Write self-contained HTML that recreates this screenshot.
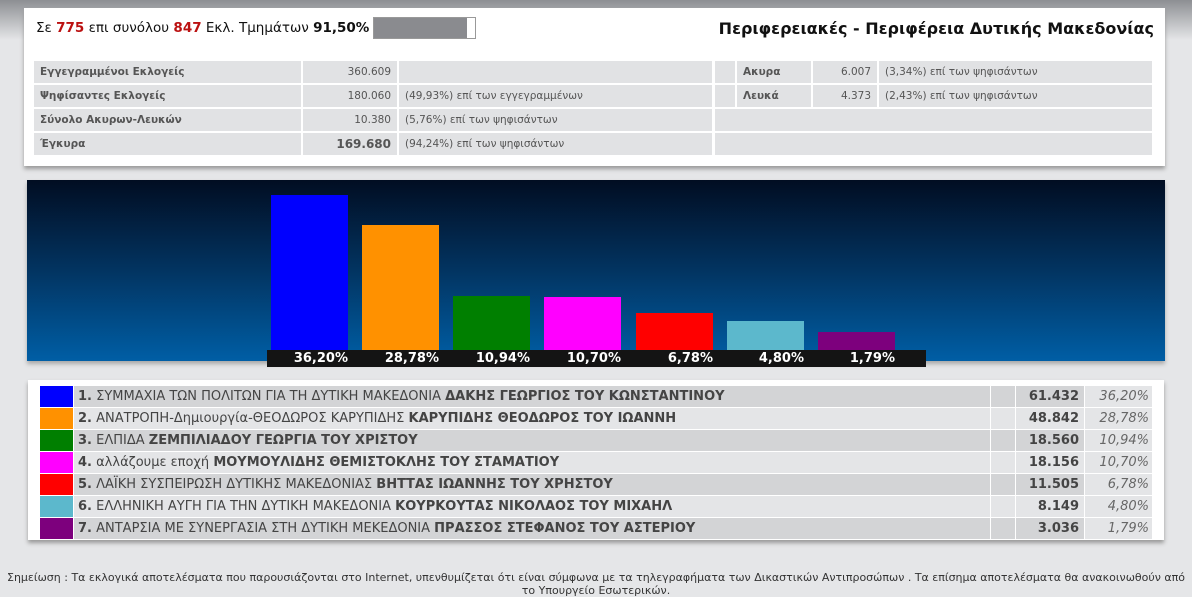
<!DOCTYPE html>
<html><head><meta charset="utf-8"><style>
*{margin:0;padding:0;box-sizing:border-box}
body{width:1192px;height:593px;position:relative;background:#e5e6e8;font-family:Tahoma,"DejaVu Sans","Liberation Sans",sans-serif;overflow:hidden;color:#333}
.abs{position:absolute}
.c{position:absolute;background:#e1e2e4;font-size:10.5px;height:22px;line-height:22px;padding:0 6px;color:#555;white-space:nowrap}
.b{font-weight:bold;font-size:10.5px}
.row{position:absolute;left:74px;width:1078px;height:21px;font-size:13px;line-height:21px;color:#444}
.row .t{position:absolute;left:0;width:916px;height:21px;padding-left:4px;white-space:nowrap}
.row .g{position:absolute;left:917px;width:24px;height:21px}
.row .n{position:absolute;left:942px;width:68px;height:21px;text-align:right;padding-right:5px;font-weight:bold;font-size:13px}
.row .p{position:absolute;left:1011px;width:67px;height:21px;text-align:right;padding-right:3px;font-style:italic;color:#666}
.sq{position:absolute;left:40px;width:33px;height:21px}
</style></head><body>
<div class="abs" style="left:0;top:0;width:1192px;height:40px;background:linear-gradient(#8d8f93,#e5e6e8)"></div>
<div class="abs" style="left:24px;top:8px;width:1141px;height:158px;background:#fff;box-shadow:0 3px 4px #999"></div>
<div class="abs" style="left:36px;top:20px;font-size:13.5px;color:#111;white-space:nowrap">Σε <b style="color:#b11">775</b> επι συνόλου <b style="color:#b11">847</b> Εκλ. Τμημάτων <b>91,50%</b></div>
<div class="abs" style="left:373px;top:17px;width:103px;height:22px;border:1px solid #999;background:#fff"><div style="width:93px;height:20px;background:#8a8b8f"></div></div>
<div class="abs" style="right:38px;top:19px;font-size:16px;font-weight:bold;color:#111">Περιφερειακές - Περιφέρεια Δυτικής Μακεδονίας</div>

<div class="c b" style="left:34px;top:61px;width:267px">Εγγεγραμμένοι Εκλογείς</div>
<div class="c" style="left:303px;top:61px;width:94px;text-align:right">360.609</div>
<div class="c" style="left:399px;top:61px;width:313px"></div>
<div class="c" style="left:715px;top:61px;width:20px"></div>
<div class="c b" style="left:737px;top:61px;width:74px">Ακυρα</div>
<div class="c" style="left:813px;top:61px;width:64px;text-align:right">6.007</div>
<div class="c" style="left:879px;top:61px;width:273px">(3,34%) επί των ψηφισάντων</div>

<div class="c b" style="left:34px;top:85px;width:267px">Ψηφίσαντες Εκλογείς</div>
<div class="c" style="left:303px;top:85px;width:94px;text-align:right">180.060</div>
<div class="c" style="left:399px;top:85px;width:313px">(49,93%) επί των εγγεγραμμένων</div>
<div class="c" style="left:715px;top:85px;width:20px"></div>
<div class="c b" style="left:737px;top:85px;width:74px">Λευκά</div>
<div class="c" style="left:813px;top:85px;width:64px;text-align:right">4.373</div>
<div class="c" style="left:879px;top:85px;width:273px">(2,43%) επί των ψηφισάντων</div>

<div class="c b" style="left:34px;top:109px;width:267px">Σύνολο Ακυρων-Λευκών</div>
<div class="c" style="left:303px;top:109px;width:94px;text-align:right">10.380</div>
<div class="c" style="left:399px;top:109px;width:313px">(5,76%) επί των ψηφισάντων</div>
<div class="c" style="left:715px;top:109px;width:437px"></div>

<div class="c b" style="left:34px;top:133px;width:267px">Έγκυρα</div>
<div class="c" style="left:303px;top:133px;width:94px;text-align:right;font-weight:bold;font-size:12px">169.680</div>
<div class="c" style="left:399px;top:133px;width:313px">(94,24%) επί των ψηφισάντων</div>
<div class="c" style="left:715px;top:133px;width:437px"></div>

<div class="abs" style="left:27px;top:180px;width:1138px;height:181px;background:linear-gradient(#010d22,#023461 50%,#005ea5);box-shadow:0 3px 4px #aaa"></div>
<div class="abs" style="left:271px;top:195px;width:77px;height:156px;background:#0000ff"></div>
<div class="abs" style="left:362px;top:225px;width:77px;height:126px;background:#ff9100"></div>
<div class="abs" style="left:453px;top:296px;width:77px;height:55px;background:#007f00"></div>
<div class="abs" style="left:544px;top:297px;width:77px;height:54px;background:#ff00ff"></div>
<div class="abs" style="left:636px;top:313px;width:77px;height:38px;background:#ff0000"></div>
<div class="abs" style="left:727px;top:321px;width:77px;height:30px;background:#5cb8cc"></div>
<div class="abs" style="left:818px;top:332px;width:77px;height:19px;background:#7d007d"></div>
<div class="abs" style="left:267px;top:350px;width:659px;height:17px;background:#141414;color:#fff;font-weight:bold;font-size:13px;line-height:17px">
<span class="abs" style="left:0;width:81px;text-align:right">36,20%</span>
<span class="abs" style="left:91px;width:81px;text-align:right">28,78%</span>
<span class="abs" style="left:182px;width:81px;text-align:right">10,94%</span>
<span class="abs" style="left:273px;width:81px;text-align:right">10,70%</span>
<span class="abs" style="left:365px;width:81px;text-align:right">6,78%</span>
<span class="abs" style="left:456px;width:81px;text-align:right">4,80%</span>
<span class="abs" style="left:547px;width:81px;text-align:right">1,79%</span>
</div>

<div class="abs" style="left:28px;top:380px;width:1136px;height:160px;background:#fff;box-shadow:0 3px 4px #999"></div>

<div class="sq" style="top:386px;background:#0000ff"></div>
<div class="row" style="top:386px"><div class="t" style="background:#d3d4d6"><b>1.</b> ΣΥΜΜΑΧΙΑ ΤΩΝ ΠΟΛΙΤΩΝ ΓΙΑ ΤΗ ΔΥΤΙΚΗ ΜΑΚΕΔΟΝΙΑ <b>ΔΑΚΗΣ ΓΕΩΡΓΙΟΣ ΤΟΥ ΚΩΝΣΤΑΝΤΙΝΟΥ</b></div><div class="g" style="background:#d3d4d6"></div><div class="n" style="background:#d3d4d6">61.432</div><div class="p" style="background:#e4e5e7">36,20%</div></div>
<div class="sq" style="top:408px;background:#ff9100"></div>
<div class="row" style="top:408px"><div class="t" style="background:#e4e5e7"><b>2.</b> ΑΝΑΤΡΟΠΗ-Δημιουργία-ΘΕΟΔΩΡΟΣ ΚΑΡΥΠΙΔΗΣ <b>ΚΑΡΥΠΙΔΗΣ ΘΕΟΔΩΡΟΣ ΤΟΥ ΙΩΑΝΝΗ</b></div><div class="g" style="background:#e4e5e7"></div><div class="n" style="background:#e4e5e7">48.842</div><div class="p" style="background:#e4e5e7">28,78%</div></div>
<div class="sq" style="top:430px;background:#007f00"></div>
<div class="row" style="top:430px"><div class="t" style="background:#d3d4d6"><b>3.</b> ΕΛΠΙΔΑ <b>ΖΕΜΠΙΛΙΑΔΟΥ ΓΕΩΡΓΙΑ ΤΟΥ ΧΡΙΣΤΟΥ</b></div><div class="g" style="background:#d3d4d6"></div><div class="n" style="background:#d3d4d6">18.560</div><div class="p" style="background:#e4e5e7">10,94%</div></div>
<div class="sq" style="top:452px;background:#ff00ff"></div>
<div class="row" style="top:452px"><div class="t" style="background:#e4e5e7"><b>4.</b> αλλάζουμε εποχή <b>ΜΟΥΜΟΥΛΙΔΗΣ ΘΕΜΙΣΤΟΚΛΗΣ ΤΟΥ ΣΤΑΜΑΤΙΟΥ</b></div><div class="g" style="background:#e4e5e7"></div><div class="n" style="background:#e4e5e7">18.156</div><div class="p" style="background:#e4e5e7">10,70%</div></div>
<div class="sq" style="top:474px;background:#ff0000"></div>
<div class="row" style="top:474px"><div class="t" style="background:#d3d4d6"><b>5.</b> ΛΑΪΚΗ ΣΥΣΠΕΙΡΩΣΗ ΔΥΤΙΚΗΣ ΜΑΚΕΔΟΝΙΑΣ <b>ΒΗΤΤΑΣ ΙΩΑΝΝΗΣ ΤΟΥ ΧΡΗΣΤΟΥ</b></div><div class="g" style="background:#d3d4d6"></div><div class="n" style="background:#d3d4d6">11.505</div><div class="p" style="background:#e4e5e7">6,78%</div></div>
<div class="sq" style="top:496px;background:#5cb8cc"></div>
<div class="row" style="top:496px"><div class="t" style="background:#e4e5e7"><b>6.</b> ΕΛΛΗΝΙΚΗ ΑΥΓΗ ΓΙΑ ΤΗΝ ΔΥΤΙΚΗ ΜΑΚΕΔΟΝΙΑ <b>ΚΟΥΡΚΟΥΤΑΣ ΝΙΚΟΛΑΟΣ ΤΟΥ ΜΙΧΑΗΛ</b></div><div class="g" style="background:#e4e5e7"></div><div class="n" style="background:#e4e5e7">8.149</div><div class="p" style="background:#e4e5e7">4,80%</div></div>
<div class="sq" style="top:518px;background:#7d007d"></div>
<div class="row" style="top:518px"><div class="t" style="background:#d3d4d6"><b>7.</b> ΑΝΤΑΡΣΙΑ ΜΕ ΣΥΝΕΡΓΑΣΙΑ ΣΤΗ ΔΥΤΙΚΗ ΜΕΚΕΔΟΝΙΑ <b>ΠΡΑΣΣΟΣ ΣΤΕΦΑΝΟΣ ΤΟΥ ΑΣΤΕΡΙΟΥ</b></div><div class="g" style="background:#d3d4d6"></div><div class="n" style="background:#d3d4d6">3.036</div><div class="p" style="background:#e4e5e7">1,79%</div></div>

<div class="abs" style="left:0;top:571px;width:1192px;text-align:center;font-size:11px;line-height:13px;color:#333">Σημείωση : Τα εκλογικά αποτελέσματα που παρουσιάζονται στο Internet, υπενθυμίζεται ότι είναι σύμφωνα με τα τηλεγραφήματα των Δικαστικών Αντιπροσώπων . Τα επίσημα αποτελέσματα θα ανακοινωθούν από<br>το Υπουργείο Εσωτερικών.</div>
</body></html>
